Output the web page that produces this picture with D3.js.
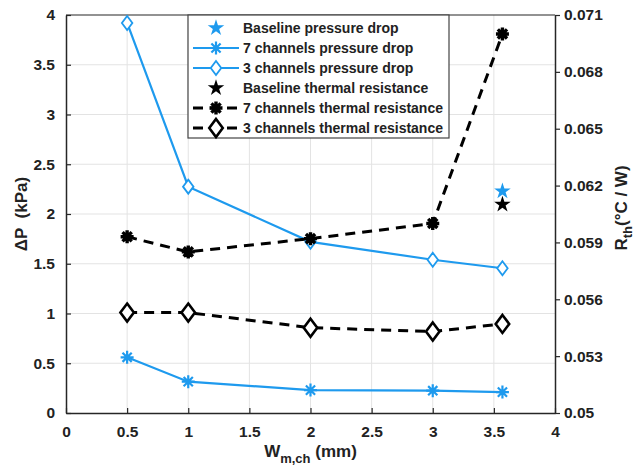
<!DOCTYPE html>
<html>
<head>
<meta charset="utf-8">
<script src="https://cdn.jsdelivr.net/npm/d3@7"></script>
<style>
  body { margin: 0; background: #fff; }
  text { font-family: Arial, "Liberation Sans", sans-serif; font-weight: bold; fill: #222; }
</style>
</head>
<body>
<div id="chart"></div>
<script>
// channel widths (mm)
const widths = [0.5, 1, 2, 3, 3.57];
const baselineX = 3.57;

// pressure drop (kPa), left axis
const dp7 = [0.56, 0.315, 0.23, 0.224, 0.21];
const dp3 = [3.92, 2.275, 1.72, 1.54, 1.455];
const dpBaseline = 2.23;

// thermal resistance (°C/W), right axis
const rth7 = [0.0593, 0.0585, 0.0592, 0.0600, 0.0700];
const rth3 = [0.0553, 0.0553, 0.0545, 0.0543, 0.0547];
const rthBaseline = 0.0610;

const xTicks = [0, 0.5, 1, 1.5, 2, 2.5, 3, 3.5, 4];
const yLeftTicks = [0, 0.5, 1, 1.5, 2, 2.5, 3, 3.5, 4];
const yRightTicks = [0.05, 0.053, 0.056, 0.059, 0.062, 0.065, 0.068, 0.071];

const legendLabels = [
  'Baseline pressure drop',
  '7 channels pressure drop',
  '3 channels pressure drop',
  'Baseline thermal resistance',
  '7 channels thermal resistance',
  '3 channels thermal resistance'
];

const blue = '#1e9aee';
const black = '#000';

const width = 641, height = 465;
const margin = { top: 15, right: 86, bottom: 52, left: 66 };

const svg = d3.select('#chart').append('svg')
  .attr('width', width)
  .attr('height', height);

const x = d3.scaleLinear().domain([0, 4]).range([margin.left, width - margin.right]);
const yL = d3.scaleLinear().domain([0, 4]).range([height - margin.bottom, margin.top]);
const yR = d3.scaleLinear().domain([0.05, 0.071]).range([height - margin.bottom, margin.top]);

// grid
const grid = svg.append('g').attr('stroke', '#e3e3e3').attr('stroke-width', 1);
grid.selectAll('.gx').data(xTicks.slice(1, -1)).join('line')
  .attr('x1', d => x(d)).attr('x2', d => x(d))
  .attr('y1', yL(0)).attr('y2', yL(4));
grid.selectAll('.gy').data(yLeftTicks.slice(1, -1)).join('line')
  .attr('y1', d => yL(d)).attr('y2', d => yL(d))
  .attr('x1', x(0)).attr('x2', x(4));

// axes
const axisColor = '#262626';
const gx = svg.append('g')
  .attr('transform', `translate(0,${yL(0)})`)
  .call(d3.axisBottom(x).tickValues(xTicks).tickFormat(d3.format('')).tickSizeInner(-5).tickSizeOuter(0).tickPadding(13));
const gl = svg.append('g')
  .attr('transform', `translate(${x(0)},0)`)
  .call(d3.axisLeft(yL).tickValues(yLeftTicks).tickFormat(d3.format('')).tickSizeInner(-5).tickSizeOuter(0).tickPadding(11));
const gr = svg.append('g')
  .attr('transform', `translate(${x(4)},0)`)
  .call(d3.axisRight(yR).tickValues(yRightTicks).tickFormat(d3.format('')).tickSizeInner(5).tickSizeOuter(0).tickPadding(4));
[gx, gl, gr].forEach(g => {
  g.select('.domain').attr('stroke', axisColor).attr('stroke-width', 1.5);
  g.selectAll('.tick line').attr('stroke', axisColor).attr('stroke-width', 1.2);
  g.selectAll('.tick text').attr('font-size', 15.5).attr('font-weight', 'bold').attr('fill', '#222')
    .attr('font-family', 'Arial, "Liberation Sans", sans-serif');
});
// top border
svg.append('line')
  .attr('x1', x(0)).attr('x2', x(4)).attr('y1', yL(4)).attr('y2', yL(4))
  .attr('stroke', axisColor).attr('stroke-width', 1.2);

// markers
function asterisk(sel, r) {
  const a = r * 0.707;
  return sel.attr('d', `M${-r},0L${r},0M0,${-r}L0,${r}M${-a},${-a}L${a},${a}M${-a},${a}L${a},${-a}`);
}
function diamond(sel, r) {
  return sel.attr('d', `M0,${-r}L${r * 0.75},0L0,${r}L${-r * 0.75},0Z`);
}
const star = d3.symbol().type(d3.symbolStar);

// line series
function drawSeries(xs, ys, yScale, color, dash, lw, marker, mr, mw) {
  const pts = xs.map((d, i) => [d, ys[i]]);
  svg.append('path').datum(pts)
    .attr('fill', 'none').attr('stroke', color).attr('stroke-width', lw)
    .attr('stroke-dasharray', dash)
    .attr('d', d3.line().x(d => x(d[0])).y(d => yScale(d[1])));
  svg.append('g').selectAll('path').data(pts).join('path')
    .attr('transform', d => `translate(${x(d[0])},${yScale(d[1])})`)
    .attr('fill', marker === diamond ? '#fff' : 'none')
    .attr('stroke', color).attr('stroke-width', mw)
    .call(s => marker(s, mr));
}

drawSeries(widths, dp7, yL, blue, null, 2.2, asterisk, 6.5, 2.2);
drawSeries(widths, dp3, yL, blue, null, 2.2, diamond, 7, 1.8);
drawSeries(widths, rth7, yR, black, '10,7', 3, asterisk, 6.5, 3.4);
drawSeries(widths, rth3, yR, black, '10,7', 3, diamond, 9, 2.6);

// baseline points
svg.append('path')
  .attr('d', star.size(85)())
  .attr('transform', `translate(${x(baselineX)},${yL(dpBaseline)})`)
  .attr('fill', blue);
svg.append('path')
  .attr('d', star.size(85)())
  .attr('transform', `translate(${x(baselineX)},${yR(rthBaseline)})`)
  .attr('fill', black);

// legend
const lg = svg.append('g').attr('transform', 'translate(188,15)');
lg.append('rect').attr('width', 261).attr('height', 123)
  .attr('fill', '#fff').attr('stroke', '#444').attr('stroke-width', 1.2);
const rowY = i => 13 + i * 20;
const legendStyles = [
  { color: blue, line: false, marker: 'star' },
  { color: blue, line: true, dash: null, lw: 2.2, marker: asterisk, mr: 6.5, mw: 2.2 },
  { color: blue, line: true, dash: null, lw: 2.2, marker: diamond, mr: 7, mw: 1.8 },
  { color: black, line: false, marker: 'star' },
  { color: black, line: true, dash: '10,7', lw: 3, marker: asterisk, mr: 6.5, mw: 3.4 },
  { color: black, line: true, dash: '10,7', lw: 3, marker: diamond, mr: 9, mw: 2.6 }
];
legendLabels.forEach((label, i) => {
  const st = legendStyles[i];
  const row = lg.append('g').attr('transform', `translate(0,${rowY(i)})`);
  if (st.line) {
    row.append('line').attr('x1', 5).attr('x2', 51).attr('y1', 0).attr('y2', 0)
      .attr('stroke', st.color).attr('stroke-width', st.lw)
      .attr('stroke-dasharray', st.dash);
  }
  if (st.marker === 'star') {
    row.append('path').attr('d', star.size(85)()).attr('transform', 'translate(28,0)').attr('fill', st.color);
  } else {
    row.append('path').attr('transform', 'translate(28,0)')
      .attr('fill', st.marker === diamond ? '#fff' : 'none')
      .attr('stroke', st.color).attr('stroke-width', st.mw)
      .call(s => st.marker(s, st.mr));
  }
  row.append('text').attr('x', 55).attr('y', 5).attr('font-size', 14).text(label);
});

// axis labels
svg.append('text')
  .attr('transform', `translate(27,${(yL(0) + yL(4)) / 2}) rotate(-90)`)
  .attr('text-anchor', 'middle').attr('font-size', 17)
  .attr('xml:space', 'preserve')
  .text('\u0394P  (kPa)');

const rl = svg.append('text')
  .attr('transform', `translate(627,${(yL(0) + yL(4)) / 2 - 6}) rotate(-90)`)
  .attr('text-anchor', 'middle').attr('font-size', 17);
rl.append('tspan').text('R');
rl.append('tspan').attr('font-size', 13).attr('dy', 5).text('th');
rl.append('tspan').attr('dy', -5).text('(\u00b0C / W)');

const xl = svg.append('text')
  .attr('x', x(2)).attr('y', 457)
  .attr('text-anchor', 'middle').attr('font-size', 17);
xl.append('tspan').text('W');
xl.append('tspan').attr('font-size', 13).attr('dy', 6).text('m,ch');
xl.append('tspan').attr('dy', -6).text(' (mm)');
</script>
</body>
</html>
